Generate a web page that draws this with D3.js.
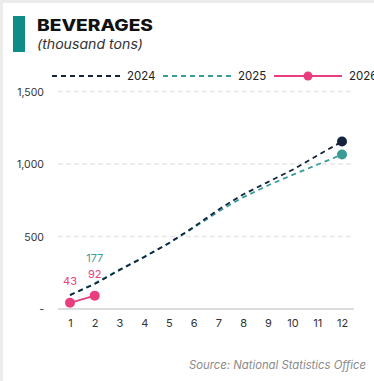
<!DOCTYPE html>
<html>
<head>
<meta charset="utf-8">
<script src="https://cdn.jsdelivr.net/npm/d3@7"></script>
<style>
  html, body { margin: 0; padding: 0; background: #ececec; }
  svg { display: block; font-family: Inter, "Open Sans", sans-serif; }
</style>
</head>
<body>
<svg id="chart" width="374" height="381"></svg>
<script>
// Monthly beverage output, thousand tons
const months = [1, 2, 3, 4, 5, 6, 7, 8, 9, 10, 11, 12];
const values2024 = [96, 172, 268, 358, 455, 565, 685, 790, 875, 960, 1058, 1155];
const values2025 = [96, 177, 272, 360, 452, 560, 672, 770, 852, 925, 995, 1065];
const values2026 = [43, 92];
const yTicks = [0, 500, 1000, 1500];

const colors = { y2024: "#15233f", y2025: "#3b9b97", y2026: "#e83e80", accent: "#0e8c88" };

const svg = d3.select("#chart");

// card
svg.append("rect").attr("x", 3).attr("y", 3).attr("width", 380).attr("height", 390).attr("fill", "#fff");

// header
svg.append("rect").attr("x", 13).attr("y", 16).attr("width", 12).attr("height", 36).attr("fill", colors.accent);
svg.append("text").attr("x", 37).attr("y", 30.5)
  .attr("font-size", 16).attr("font-weight", 800).attr("fill", "#111")
  .attr("textLength", 116).attr("lengthAdjust", "spacingAndGlyphs")
  .text("BEVERAGES");
svg.append("text").attr("x", 37).attr("y", 49)
  .attr("font-size", 13).attr("font-style", "italic").attr("fill", "#333")
  .attr("textLength", 106).attr("lengthAdjust", "spacingAndGlyphs")
  .text("(thousand tons)");

const x = d3.scaleLinear().domain([1, 12]).range([70, 342]);
const y = d3.scaleLinear().domain([0, 1500]).range([309, 91.5]);

// gridlines
const grid = svg.append("g");
grid.selectAll("line").data(yTicks.filter(d => d > 0)).join("line")
  .attr("x1", 58).attr("x2", 353)
  .attr("y1", d => y(d)).attr("y2", d => y(d))
  .attr("stroke", "#e6e6e6").attr("stroke-width", 1.5).attr("stroke-dasharray", "5,3");

// baseline
svg.append("line").attr("x1", 58).attr("x2", 354).attr("y1", y(0)).attr("y2", y(0))
  .attr("stroke", "#dcdcdc").attr("stroke-width", 2);

// y axis labels
const yFmt = d => d === 0 ? "-" : d3.format(",")(d);
const yAxis = svg.append("g").attr("transform", "translate(44,0)")
  .call(d3.axisLeft(y).tickValues(yTicks).tickFormat(yFmt).tickSize(0).tickPadding(0));
yAxis.select(".domain").remove();
yAxis.selectAll("text").attr("font-size", 10.5).attr("fill", "#333")
  .attr("font-family", "Inter, sans-serif").attr("dy", "0.35em");

// x axis labels
const xAxis = svg.append("g").attr("transform", `translate(0,${y(0)})`)
  .call(d3.axisBottom(x).tickValues(months).tickFormat(d3.format("d")).tickSize(0).tickPadding(10));
xAxis.select(".domain").remove();
xAxis.selectAll("text").attr("font-size", 11).attr("fill", "#333")
  .attr("font-family", "Inter, sans-serif");

const line = d3.line().x((d, i) => x(months[i])).y(d => y(d));

// 2025 and 2024 dashed series
svg.append("path").datum(values2025).attr("d", line)
  .attr("fill", "none").attr("stroke", colors.y2025).attr("stroke-width", 1.8).attr("stroke-dasharray", "5,4");
svg.append("path").datum(values2024).attr("d", line)
  .attr("fill", "none").attr("stroke", colors.y2024).attr("stroke-width", 1.8).attr("stroke-dasharray", "5,4");

// end markers
svg.append("circle").attr("cx", x(12)).attr("cy", y(values2024[11])).attr("r", 5).attr("fill", colors.y2024);
svg.append("circle").attr("cx", x(12)).attr("cy", y(values2025[11])).attr("r", 5).attr("fill", colors.y2025);

// 2026 series
svg.append("path").datum(values2026).attr("d", line)
  .attr("fill", "none").attr("stroke", colors.y2026).attr("stroke-width", 1.8);
svg.selectAll(".p26").data(values2026).join("circle").attr("class", "p26")
  .attr("cx", (d, i) => x(months[i])).attr("cy", d => y(d)).attr("r", 5).attr("fill", colors.y2026);

// value labels
svg.selectAll(".l26").data(values2026).join("text").attr("class", "l26")
  .attr("x", (d, i) => x(months[i])).attr("y", d => y(d) - 18)
  .attr("text-anchor", "middle").attr("font-size", 11).attr("fill", colors.y2026)
  .text(d => d);
svg.append("text").attr("x", x(2)).attr("y", y(values2025[1]) - 21)
  .attr("text-anchor", "middle").attr("font-size", 11).attr("fill", colors.y2025)
  .text(values2025[1]);

// legend
const legend = [
  { label: "2024", color: colors.y2024, dash: "5,4", dot: false, x0: 52 },
  { label: "2025", color: colors.y2025, dash: "5,4", dot: false, x0: 163 },
  { label: "2026", color: colors.y2026, dash: null, dot: true, x0: 274 }
];
const lg = svg.append("g").selectAll("g").data(legend).join("g")
  .attr("transform", d => `translate(${d.x0},76)`);
lg.append("line").attr("x1", 0).attr("x2", 68).attr("y1", 0).attr("y2", 0)
  .attr("stroke", d => d.color).attr("stroke-width", 1.8)
  .attr("stroke-dasharray", d => d.dash);
lg.filter(d => d.dot).append("circle").attr("cx", 34).attr("cy", 0).attr("r", 4.5).attr("fill", d => d.color);
lg.append("text").attr("x", 75).attr("y", 0).attr("dy", "0.35em")
  .attr("font-size", 11.5).attr("fill", "#222").text(d => d.label);

// source note
svg.append("text").attr("x", 366).attr("y", 369).attr("text-anchor", "end")
  .attr("font-size", 11.3).attr("font-style", "italic").attr("fill", "#8a8a8a")
  .text("Source: National Statistics Office");
</script>
</body>
</html>
